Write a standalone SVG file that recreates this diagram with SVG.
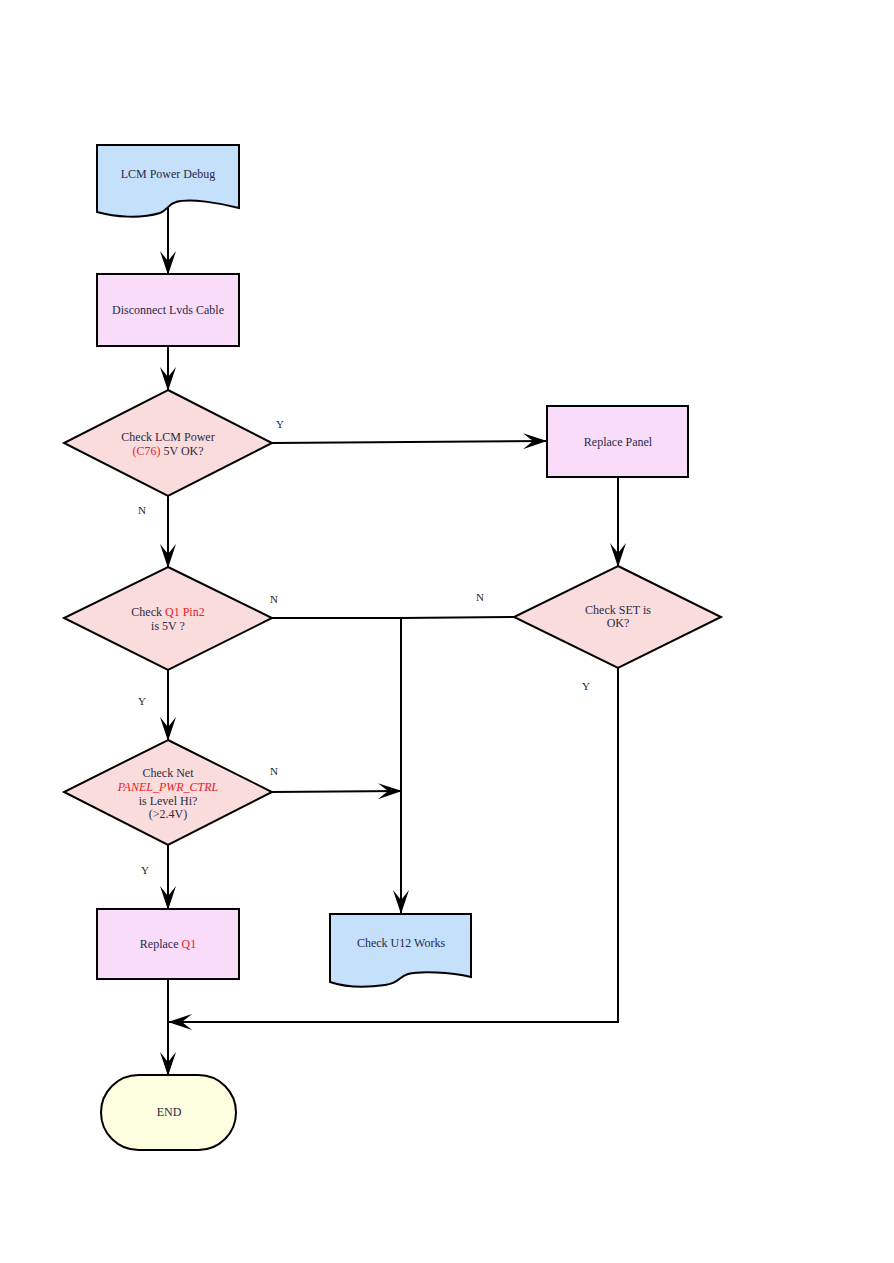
<svg xmlns="http://www.w3.org/2000/svg" width="894" height="1263" viewBox="0 0 894 1263">
<style>
.s{stroke:#000;stroke-width:2;}
.doc{fill:#c4e0fa;}
.box{fill:#f9dcfa;}
.dia{fill:#fadcdc;}
.term{fill:#fdfde0;}
.t{font-family:"Liberation Serif",serif;font-size:12px;fill:#2a2a44;text-anchor:middle;}
.r{fill:#e8202a;}
.lbl{font-family:"Liberation Serif",serif;font-size:11px;fill:#222;}
.c{fill:none;stroke:#000;stroke-width:2;}
</style>
<defs>
<marker id="ah" viewBox="0 0 24 16" refX="23" refY="8" markerWidth="24" markerHeight="16" markerUnits="userSpaceOnUse" orient="auto">
<path d="M0,0 L24,8 L0,16 L10,8 Z" fill="#000"/>
</marker>
</defs>
<rect width="894" height="1263" fill="#fff"/>
<g id="connectors">
<line class="c" x1="168" y1="208" x2="168" y2="274" marker-end="url(#ah)"/>
<line class="c" x1="168" y1="346" x2="168" y2="390" marker-end="url(#ah)"/>
<line class="c" x1="272" y1="443" x2="546" y2="441" marker-end="url(#ah)"/>
<line class="c" x1="618" y1="477" x2="618" y2="566" marker-end="url(#ah)"/>
<line class="c" x1="168" y1="496" x2="168" y2="567" marker-end="url(#ah)"/>
<polyline class="c" points="272,618 401,618 514,617"/>
<line class="c" x1="401" y1="618" x2="401" y2="913" marker-end="url(#ah)"/>
<line class="c" x1="168" y1="670" x2="168" y2="740" marker-end="url(#ah)"/>
<line class="c" x1="272" y1="792" x2="401" y2="791" marker-end="url(#ah)"/>
<line class="c" x1="168" y1="845" x2="168" y2="909" marker-end="url(#ah)"/>
<line class="c" x1="168" y1="979" x2="168" y2="1075" marker-end="url(#ah)"/>
<polyline class="c" points="618,668 618,1022 169,1022" marker-end="url(#ah)"/>
<text class="lbl" x="276" y="428">Y</text>
<text class="lbl" x="138" y="514">N</text>
<text class="lbl" x="270" y="603">N</text>
<text class="lbl" x="476" y="601">N</text>
<text class="lbl" x="582" y="690">Y</text>
<text class="lbl" x="138" y="705">Y</text>
<text class="lbl" x="270" y="775">N</text>
<text class="lbl" x="141" y="874">Y</text>
</g>
<g id="n-start">
<path class="s doc" d="M97,145 H239 V208 C220,203 190,198 176,202 C168,204 168,210 160,213 C140,219 115,217 97,212 Z"/>
<text class="t" x="168" y="178">LCM Power Debug</text>
</g>
<g id="n-disconnect">
<rect class="s box" x="97" y="274" width="142" height="72"/>
<text class="t" x="168" y="314">Disconnect Lvds Cable</text>
</g>
<g id="n-check-lcm">
<polygon class="s dia" points="168,390 272,443 168,496 64,443"/>
<text class="t" x="168" y="441">Check LCM Power</text>
<text class="t" x="168" y="455"><tspan class="r">(C76)</tspan> 5V OK?</text>
</g>
<g id="n-replace-panel">
<rect class="s box" x="547" y="406" width="141" height="71"/>
<text class="t" x="618" y="446">Replace Panel</text>
</g>
<g id="n-check-set">
<polygon class="s dia" points="618,566 721,617 618,668 514,617"/>
<text class="t" x="618" y="614">Check SET is</text>
<text class="t" x="618" y="627">OK?</text>
</g>
<g id="n-check-q1">
<polygon class="s dia" points="168,567 272,618 168,670 64,618"/>
<text class="t" x="168" y="616">Check <tspan class="r">Q1 Pin2</tspan></text>
<text class="t" x="168" y="630">is 5V ?</text>
</g>
<g id="n-check-net">
<polygon class="s dia" points="168,740 272,792 168,845 64,792"/>
<text class="t" x="168" y="777">Check Net</text>
<text class="t r" x="168" y="791" font-style="italic">PANEL_PWR_CTRL</text>
<text class="t" x="168" y="805">is Level Hi?</text>
<text class="t" x="168" y="818">(&gt;2.4V)</text>
</g>
<g id="n-replace-q1">
<rect class="s box" x="97" y="909" width="142" height="70"/>
<text class="t" x="168" y="948">Replace <tspan class="r">Q1</tspan></text>
</g>
<g id="n-check-u12">
<path class="s doc" d="M330,914 H471 V977 C450,972 420,971 408,974 C398,977 400,983 385,985 C365,988 345,987 330,982 Z"/>
<text class="t" x="401" y="947">Check U12 Works</text>
</g>
<g id="n-end">
<rect class="s term" x="101" y="1075" width="135" height="75" rx="37.5" ry="37.5"/>
<text class="t" x="169" y="1116">END</text>
</g>
</svg>
